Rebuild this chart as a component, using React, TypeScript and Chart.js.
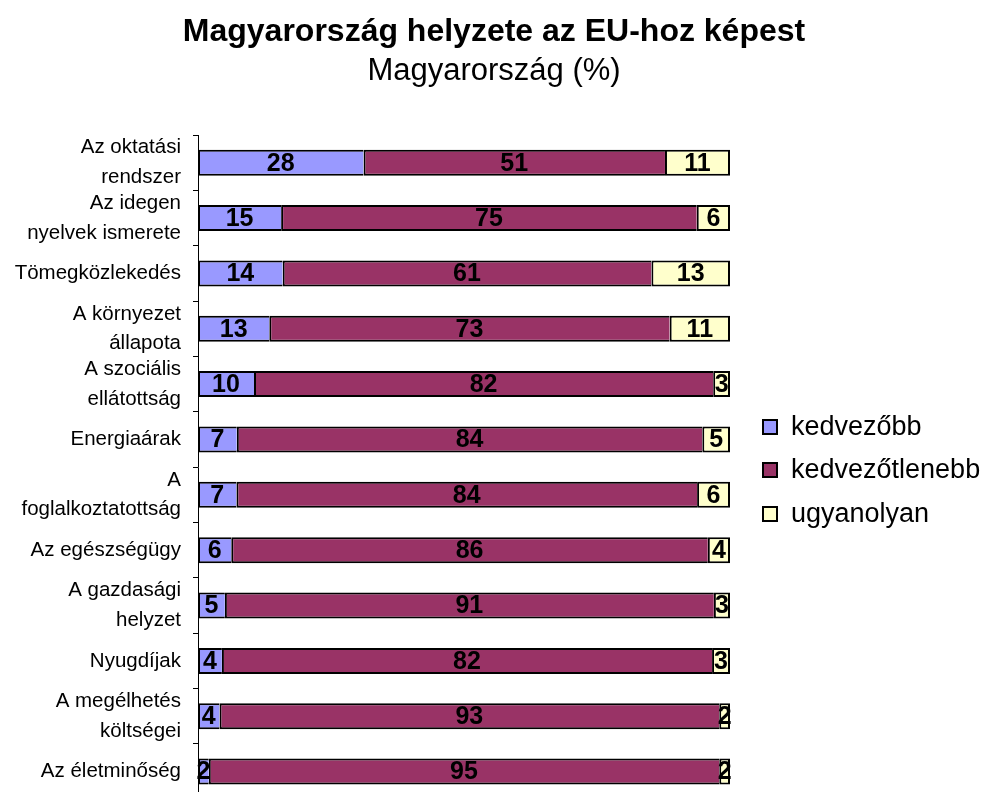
import React, { useEffect, useRef } from "react";
import { Chart, registerables } from "chart.js";

Chart.register(...registerables);

const categories: (string | string[])[] = [
  ["Az oktatási", "rendszer"],
  ["Az idegen", "nyelvek ismerete"],
  "Tömegközlekedés",
  ["A környezet", "állapota"],
  ["A szociális", "ellátottság"],
  "Energiaárak",
  ["A", "foglalkoztatottság"],
  "Az egészségügy",
  ["A gazdasági", "helyzet"],
  "Nyugdíjak",
  ["A megélhetés", "költségei"],
  "Az életminőség",
];

const kedvezobb = [28, 15, 14, 13, 10, 7, 7, 6, 5, 4, 4, 2];
const kedvezotlenebb = [51, 75, 61, 73, 82, 84, 84, 86, 91, 82, 93, 95];
const ugyanolyan = [11, 6, 13, 11, 3, 5, 6, 4, 3, 3, 2, 2];

const seriesNames = ["kedvezőbb", "kedvezőtlenebb", "ugyanolyan"];
const seriesColors = ["#9999FF", "#993366", "#FFFFCC"];

const titleText = "Magyarország helyzete az EU-hoz képest";
const subtitleText = "Magyarország (%)";

const FONT = "'Liberation Sans', Arial, sans-serif";

export default function App() {
  const ref = useRef<HTMLCanvasElement | null>(null);

  useEffect(() => {
    document.body.style.margin = "0";
    const canvas = ref.current;
    if (!canvas) return;

    const raw = [kedvezobb, kedvezotlenebb, ugyanolyan];
    const totals = categories.map((_, i) => raw.reduce((s, arr) => s + arr[i], 0));
    const pct = raw.map((arr) => arr.map((v, i) => (v / totals[i]) * 100));

    const borderWidths = [
      { top: 2, bottom: 2, left: 2, right: 0 },
      { top: 2, bottom: 2, left: 2, right: 0 },
      { top: 2, bottom: 2, left: 2, right: 2 },
    ];

    const valueLabels = {
      id: "valueLabels",
      afterDatasetsDraw(chart: any) {
        const ctx = chart.ctx;
        ctx.save();
        ctx.font = `bold 25px ${FONT}`;
        ctx.fillStyle = "#000";
        ctx.textAlign = "center";
        ctx.textBaseline = "middle";
        chart.data.datasets.forEach((ds: any, di: number) => {
          const meta = chart.getDatasetMeta(di);
          meta.data.forEach((el: any, i: number) => {
            const p = el.getProps(["x", "y", "base"], true);
            const cx = (p.x + p.base) / 2;
            ctx.fillText(String(raw[di][i]), cx, p.y + 1);
          });
        });
        ctx.restore();
      },
    };

    const titles = {
      id: "titles",
      afterDraw(chart: any) {
        const ctx = chart.ctx;
        ctx.save();
        ctx.fillStyle = "#000";
        ctx.textAlign = "center";
        ctx.textBaseline = "middle";
        ctx.font = `bold 32px ${FONT}`;
        ctx.fillText(titleText, 494, 32);
        ctx.font = `31px ${FONT}`;
        ctx.fillText(subtitleText, 494, 71);
        ctx.restore();
      },
    };

    const customLegend = {
      id: "customLegend",
      afterDraw(chart: any) {
        const ctx = chart.ctx;
        ctx.save();
        const ys = [427, 470, 514];
        seriesNames.forEach((name, i) => {
          const y = ys[i];
          ctx.fillStyle = seriesColors[i];
          ctx.fillRect(762, y - 8, 16, 16);
          ctx.strokeStyle = "#000";
          ctx.lineWidth = 2;
          ctx.strokeRect(763, y - 7, 14, 14);
          ctx.fillStyle = "#000";
          ctx.font = `27px ${FONT}`;
          ctx.textAlign = "left";
          ctx.textBaseline = "middle";
          ctx.fillText(name, 791, y + 1);
        });
        ctx.restore();
      },
    };

    const chart = new Chart(canvas, {
      type: "bar",
      data: {
        labels: categories,
        datasets: pct.map((data, i) => ({
          label: seriesNames[i],
          data,
          backgroundColor: seriesColors[i],
          borderColor: "#000",
          borderWidth: borderWidths[i],
          borderSkipped: false,
          inflateAmount: 0,
          barPercentage: 0.47,
          categoryPercentage: 1,
        })),
      },
      options: {
        indexAxis: "y",
        responsive: false,
        animation: false,
        layout: { padding: { left: 0, right: 257, top: 135, bottom: 1 } },
        plugins: {
          legend: { display: false },
          tooltip: { enabled: false },
          title: { display: false },
          subtitle: { display: false },
        },
        scales: {
          x: {
            stacked: true,
            min: 0,
            max: 100,
            display: false,
          },
          y: {
            stacked: true,
            offset: true,
            afterFit: (scale: any) => {
              scale.width = 198;
            },
            border: { display: true, color: "#000", width: 1 },
            grid: {
              display: true,
              offset: true,
              drawOnChartArea: false,
              drawTicks: true,
              tickLength: 5,
              color: "#000",
            },
            ticks: {
              color: "#000",
              padding: 12,
              autoSkip: false,
              font: { family: FONT, size: 20.5, lineHeight: 1.45 },
            },
          },
        },
      },
      plugins: [valueLabels, titles, customLegend],
    });

    return () => chart.destroy();
  }, []);

  return (
    <div
      style={{
        position: "absolute",
        top: 0,
        left: 0,
        width: 987,
        height: 792,
        overflow: "hidden",
        background: "#fff",
      }}
    >
      <canvas ref={ref} width={987} height={841} style={{ display: "block", width: 987, height: 841 }} />
    </div>
  );
}
